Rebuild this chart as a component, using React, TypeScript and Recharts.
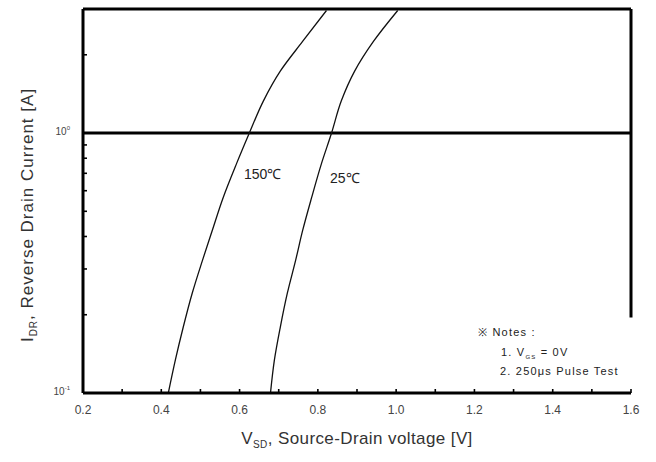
import { LineChart, Line, XAxis, YAxis, ReferenceLine } from 'recharts';

// reverse drain current [A], shared sampling levels for both curves
const current = [0.1, 0.134, 0.179, 0.242, 0.323, 0.421, 0.564, 0.761, 1.0, 1.33, 1.73, 2.25, 2.96];

// source-drain voltage [V] at 150°C
const v150 = [0.418, 0.436, 0.456, 0.479, 0.505, 0.53, 0.558, 0.592, 0.625, 0.661, 0.704, 0.761, 0.822];

// source-drain voltage [V] at 25°C
const v25 = [0.679, 0.689, 0.704, 0.722, 0.743, 0.761, 0.784, 0.809, 0.835, 0.86, 0.894, 0.942, 1.004];

const xTicks = [0.2, 0.3, 0.4, 0.5, 0.6, 0.7, 0.8, 0.9, 1.0, 1.1, 1.2, 1.3, 1.4, 1.5, 1.6];
const yTicks = [0.1, 0.2, 0.3, 0.4, 0.5, 0.6, 0.7, 0.8, 0.9, 1, 2];

const data150 = v150.map((v, k) => ({ v, i: current[k] }));
const data25 = v25.map((v, k) => ({ v, i: current[k] }));

const FONT = '"Liberation Sans", Arial, sans-serif';

function XTick({ x, y, payload }: any) {
  const v = payload.value as number;
  const major = Math.round(v * 10) % 2 === 0;
  return (
    <g>
      <line x1={x} x2={x} y1={y} y2={y - 4} stroke="#000" strokeWidth={1.6} />
      {major && (
        <text x={x} y={y + 21} textAnchor="middle" fontSize={12} fill="#444" fontFamily={FONT}>
          {v.toFixed(1)}
        </text>
      )}
    </g>
  );
}

function YTick({ x, y, payload }: any) {
  const v = payload.value as number;
  const exp = v === 1 ? '0' : v === 0.1 ? '-1' : null;
  return (
    <g>
      <line x1={x} x2={x + 4} y1={y} y2={y} stroke="#000" strokeWidth={1.6} />
      {exp && (
        <text x={x - 13} y={y + 2} textAnchor="end" fontSize={10} fill="#444" fontFamily={FONT}>
          10
          <tspan fontSize={6} dy={-5}>{exp}</tspan>
        </text>
      )}
    </g>
  );
}

function XLabel({ viewBox }: any) {
  const cx = viewBox.x + viewBox.width / 2;
  return (
    <text
      x={cx}
      y={viewBox.y + 51}
      textAnchor="middle"
      fontSize={17}
      letterSpacing={0.4}
      fill="#333"
      fontFamily={FONT}
    >
      V<tspan fontSize={10} dy={4}>SD</tspan>
      <tspan dy={-4}>, Source-Drain voltage [V]</tspan>
    </text>
  );
}

function YLabel() {
  return (
    <text
      x={0}
      y={0}
      transform="translate(33, 215) rotate(-90)"
      textAnchor="middle"
      fontSize={17}
      letterSpacing={1}
      fill="#333"
      fontFamily={FONT}
    >
      I<tspan fontSize={10} dy={4}>DR</tspan>
      <tspan dy={-4}>, Reverse Drain Current [A]</tspan>
    </text>
  );
}

export default function App() {
  return (
    <div style={{ position: 'absolute', left: 0, top: 0, width: 656, height: 462, background: '#fff' }}>
      <LineChart
        width={656}
        height={462}
        margin={{ top: 9, right: 25, bottom: 0, left: 0 }}
      >
        <XAxis
          dataKey="v"
          type="number"
          domain={[0.2, 1.6]}
          ticks={xTicks}
          interval={0}
          height={69}
          tickSize={0}
          tickMargin={0}
          tickLine={false}
          axisLine={{ stroke: '#000', strokeWidth: 3 }}
          tick={<XTick />}
          label={<XLabel />}
          allowDataOverflow
        />
        <YAxis
          dataKey="i"
          scale="log"
          type="number"
          domain={[0.1, 3]}
          ticks={yTicks}
          interval={0}
          width={83}
          tickSize={0}
          tickMargin={0}
          tickLine={false}
          axisLine={{ stroke: '#000', strokeWidth: 3 }}
          tick={<YTick />}
          label={<YLabel />}
          allowDataOverflow
        />
        <ReferenceLine y={3} stroke="#000" strokeWidth={3} />
        <ReferenceLine y={1} stroke="#000" strokeWidth={3} />
        <ReferenceLine
          segment={[
            { x: 1.6, y: 3 },
            { x: 1.6, y: 0.195 },
          ]}
          stroke="#000"
          strokeWidth={3}
        />
        <Line
          data={data150}
          dataKey="i"
          type="monotoneY"
          stroke="#111"
          strokeWidth={1.3}
          dot={false}
          isAnimationActive={false}
        />
        <Line
          data={data25}
          dataKey="i"
          type="monotoneY"
          stroke="#111"
          strokeWidth={1.3}
          dot={false}
          isAnimationActive={false}
        />
      </LineChart>
      <div style={{ position: 'absolute', left: 244, top: 164, fontSize: 14, color: '#222', fontFamily: FONT }}>
        150℃
      </div>
      <div style={{ position: 'absolute', left: 330, top: 168, fontSize: 14, color: '#222', fontFamily: FONT }}>
        25℃
      </div>
      <div
        style={{
          position: 'absolute',
          left: 478,
          top: 323,
          fontSize: 11,
          letterSpacing: 1.2,
          color: '#222',
          fontFamily: FONT,
          lineHeight: '19.5px',
          whiteSpace: 'nowrap',
        }}
      >
        <div>※ Notes :</div>
        <div style={{ paddingLeft: 23 }}>
          1. V<sub style={{ fontSize: 6, lineHeight: 0 }}>GS</sub> = 0V
        </div>
        <div style={{ paddingLeft: 22 }}>2. 250μs Pulse Test</div>
      </div>
    </div>
  );
}
